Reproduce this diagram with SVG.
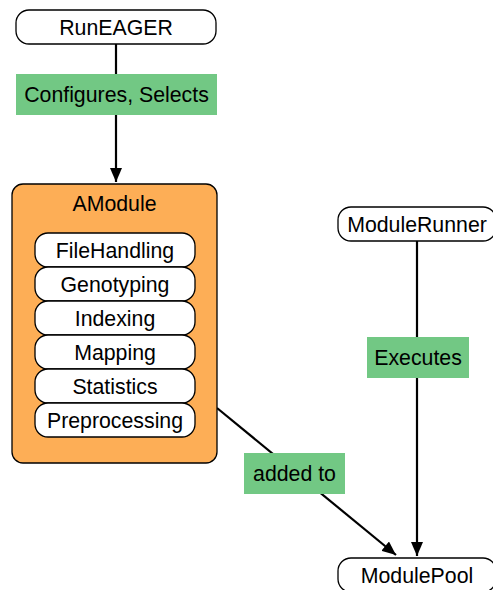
<svg xmlns="http://www.w3.org/2000/svg" width="493" height="590" viewBox="0 0 493 590">
<style>
text{font-family:"Liberation Sans",Arial,Helvetica,sans-serif;font-size:21.3px;fill:#000;text-anchor:middle}
.node{fill:#fff;stroke:#000;stroke-width:1.3}
.outer{fill:#fdae56;stroke:#000;stroke-width:1.3}
.lbl{fill:#72c884}
.edge{stroke:#000;stroke-width:2.2;fill:none}
</style>
<defs>
<marker id="arr" viewBox="0 0 14 12" refX="14" refY="6" markerWidth="14" markerHeight="12" markerUnits="userSpaceOnUse" orient="auto">
<path d="M0,0 L14,6 L0,12 Z" fill="#000"/>
</marker>
</defs>
<rect width="493" height="590" fill="#fff"/>
<g id="connectors">
<line class="edge" x1="116" y1="44" x2="116" y2="182" marker-end="url(#arr)"/>
<line class="edge" x1="417" y1="241" x2="417" y2="556" marker-end="url(#arr)"/>
<line class="edge" x1="217" y1="408" x2="396" y2="555" marker-end="url(#arr)"/>
<rect class="lbl" x="16" y="74" width="201" height="41"/>
<text x="116.5" y="102">Configures, Selects</text>
<rect class="lbl" x="367" y="337" width="102" height="41"/>
<text x="418" y="365">Executes</text>
<rect class="lbl" x="244" y="453" width="101" height="41"/>
<text x="294.5" y="481">added to</text>
</g>
<g id="RunEAGER">
<rect class="node" x="16" y="10" width="200" height="34" rx="13"/>
<text x="116" y="35">RunEAGER</text>
</g>
<g id="AModule">
<rect class="outer" x="12" y="184" width="205" height="279" rx="11"/>
<text x="114.5" y="211">AModule</text>
</g>
<g id="FileHandling">
<rect class="node" x="35" y="233" width="160" height="34" rx="13"/>
<text x="115" y="258">FileHandling</text>
</g>
<g id="Genotyping">
<rect class="node" x="35" y="267" width="160" height="34" rx="13"/>
<text x="115" y="292">Genotyping</text>
</g>
<g id="Indexing">
<rect class="node" x="35" y="301" width="160" height="34" rx="13"/>
<text x="115" y="326">Indexing</text>
</g>
<g id="Mapping">
<rect class="node" x="35" y="335" width="160" height="34" rx="13"/>
<text x="115" y="360">Mapping</text>
</g>
<g id="Statistics">
<rect class="node" x="35" y="369" width="160" height="34" rx="13"/>
<text x="115" y="394">Statistics</text>
</g>
<g id="Preprocessing">
<rect class="node" x="35" y="403" width="160" height="34" rx="13"/>
<text x="115" y="428">Preprocessing</text>
</g>
<g id="ModuleRunner">
<rect class="node" x="338" y="207" width="158" height="34" rx="13"/>
<text x="417" y="232">ModuleRunner</text>
</g>
<g id="ModulePool">
<rect class="node" x="338" y="558" width="158" height="34" rx="13"/>
<text x="417" y="583">ModulePool</text>
</g>
</svg>
